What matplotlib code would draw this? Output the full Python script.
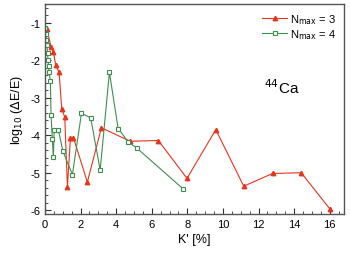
import numpy as np
import matplotlib.pyplot as plt
from matplotlib.ticker import MultipleLocator

plt.rcParams['font.family'] = ['Liberation Sans', 'DejaVu Sans']
plt.rcParams['axes.unicode_minus'] = False

# N_max = 3 series
k3 = [0.11, 0.34, 0.47, 0.6, 0.79, 0.94, 1.11, 1.26, 1.43, 1.6, 2.38, 3.17,
      4.79, 6.37, 7.98, 9.6, 11.17, 12.79, 14.4, 16.0]
e3 = [-1.16, -1.65, -1.77, -2.13, -2.32, -3.29, -3.52, -5.37, -4.07, -4.07,
      -5.25, -3.8, -4.16, -4.14, -5.15, -3.85, -5.36, -5.02, -5.0, -5.96]

# N_max = 4 series
k4 = [0.02, 0.05, 0.08, 0.11, 0.14, 0.17, 0.2, 0.23, 0.3, 0.34, 0.41, 0.47,
      0.52, 0.75, 1.01, 1.54, 2.05, 2.57, 3.1, 3.62, 4.11, 4.68, 5.18, 7.76]
e4 = [-1.15, -1.3, -1.45, -1.6, -1.8, -2.0, -2.15, -2.32, -2.55, -3.46,
      -4.09, -4.57, -3.85, -3.85, -4.43, -5.05, -3.41, -3.54, -4.93, -2.32,
      -3.82, -4.18, -4.35, -5.43]

red = '#e8341c'
green = '#3f8f4f'

fig = plt.figure(figsize=(3.5, 2.55), dpi=100)
ax = fig.add_axes([0.1286, 0.157, 0.854, 0.823])

ax.plot(k3, e3, color=red, lw=0.8, marker='^', ms=3.2, mfc=red, mec=red,
        label=r'N$_{\mathrm{max}}$ = 3')
ax.plot(k4, e4, color=green, lw=0.8, marker='s', ms=3, mfc='white', mec=green,
        mew=0.8, label=r'N$_{\mathrm{max}}$ = 4')

ax.set_xlim(0, 16.8)
ax.set_ylim(-6.1, -0.5)
ax.xaxis.set_major_locator(MultipleLocator(2))
ax.xaxis.set_minor_locator(MultipleLocator(0.5))
ax.yaxis.set_major_locator(MultipleLocator(1))
ax.yaxis.set_minor_locator(MultipleLocator(0.2))
ax.tick_params(which='both', direction='in', labelsize=8, color='#333333')
ax.tick_params(which='major', length=4, width=0.8)
ax.tick_params(which='minor', length=2, width=0.6)
for s in ax.spines.values():
    s.set_color('#555555')
    s.set_linewidth(1.0)

ax.set_xlabel("K' [%]", fontsize=9, labelpad=3)
ax.set_ylabel(r'log$_{10}$ ($\Delta$E/E)', fontsize=9, labelpad=4)

ax.text(13.3, -2.7, r'$^{44}$Ca', fontsize=11, ha='center', va='center')

leg = ax.legend(loc='upper right', fontsize=8, frameon=False, handlelength=2.2,
                handletextpad=0.3, labelspacing=0.1, borderaxespad=0.3)

fig.savefig('out.png', dpi=100)
